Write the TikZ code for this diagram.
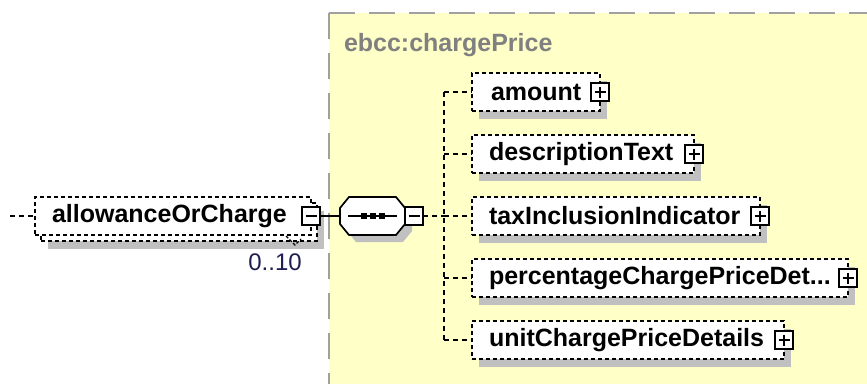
\documentclass[tikz,border=0pt]{standalone}
\usepackage{fontspec}
\setmainfont{Liberation Sans}
\usetikzlibrary{shadows,calc}
\definecolor{bgyellow}{RGB}{255,255,200}
\definecolor{bggray}{RGB}{160,160,160}
\definecolor{shadowgray}{RGB}{192,192,192}
\definecolor{labelgray}{RGB}{128,128,128}
\definecolor{occblue}{RGB}{30,30,80}
\newcommand{\octo}[2]{($(seq.west)+(#1,#2-8)$) -- ($(seq.north west)+(#1+9,#2)$) -- ($(seq.north east)+(#1-9,#2)$) -- ($(seq.east)+(#1,#2-8)$) -- ($(seq.east)+(#1,#2+8)$) -- ($(seq.south east)+(#1-9,#2)$) -- ($(seq.south west)+(#1+9,#2)$) -- ($(seq.west)+(#1,#2+8)$) -- cycle}
\begin{document}
\begin{tikzpicture}[x=1pt,y=-1pt,
  every node/.style={inner sep=0pt, outer sep=0pt},
  elem/.style={draw=black, fill=white, line width=1.8pt, dash pattern=on 4pt off 3pt, minimum height=38pt},
  shad/.style={drop shadow={shadow xshift=7pt, shadow yshift=-8pt, fill=shadowgray, opacity=1, draw=none}},
  ename/.style={font=\fontsize{25}{29}\selectfont\bfseries, anchor=west, text=black},
  conn/.style={line width=1.7pt, dash pattern=on 5pt off 4pt},
  tog/.style={draw=black, fill=white, line width=1.7pt, solid, minimum width=18pt, minimum height=18pt},
  minusbox/.style={tog, path picture={
      \draw[line width=1.7pt, solid] ($(path picture bounding box.west)+(3.5,0)$) -- ($(path picture bounding box.east)+(-3.5,0)$);}},
  plusbox/.style={tog, path picture={
      \draw[line width=1.7pt, solid] ($(path picture bounding box.west)+(3.5,0)$) -- ($(path picture bounding box.east)+(-3.5,0)$);
      \draw[line width=1.7pt, solid] ($(path picture bounding box.north)+(0,3.5)$) -- ($(path picture bounding box.south)+(0,-3.5)$);}},
]
\useasboundingbox (0,0) rectangle (867,383);
\clip (0,0) rectangle (867,383);
\fill[white] (0,0) rectangle (867,383);

% yellow complex type area
\coordinate (yc) at (329,13);
\fill[bgyellow] (yc) rectangle (900,420);
\draw[bggray, line width=2pt, dash pattern=on 26pt off 14pt] (yc) -- (900,13);
\draw[bggray, line width=2pt, dash pattern=on 26pt off 14pt] (yc) -- (329,420);
\node[font=\fontsize{25}{29}\selectfont\bfseries, text=labelgray, anchor=west] (typename) at (344,45) {ebcc:chargePrice};

% allowanceOrCharge (multiple occurrence: stacked boxes)
\node[elem, shad, minimum width=276pt] (allowback) at (179,222) {};
\node[elem, minimum width=276pt] (allow) at (173,216) {};
\node[ename] (allowtext) at ($(allow.west)+(17,0)$) {allowanceOrCharge};
\node[minusbox] (allowM) at (allow.east) {};
\node[font=\fontsize{24}{28}\selectfont, text=occblue] (occ) at (275,262) {0..10};
\coordinate (brA) at ($(allow.south east)+(-25,1)$);
\coordinate (brB) at ($(allow.south east)+(-16,10)$);
\coordinate (brC) at ($(allow.south east)+(-10,4)$);
\draw[line width=1.2pt, dash pattern=on 3pt off 2pt] (brA) -- (brB) -- (brC);

% incoming connector
\coordinate (in) at (10,216);
\draw[conn] (in) -- (allow.west);

% sequence compositor
\node[minimum width=65pt, minimum height=38pt] (seq) at (372.5,216) {};
\fill[shadowgray] \octo{7}{7};
\draw[fill=white, line width=1.7pt] \octo{0}{0};
\draw[line width=1.7pt] ($(seq.west)+(8,0)$) -- ($(seq.east)+(-8,0)$);
\foreach \dx in {-9,0,9} {
  \fill[black] ($(seq.center)+(\dx-3,-3)$) rectangle ++(6,6);
}
\node[minusbox] (seqM) at ($(seq.east)+(9,0)$) {};
\draw[line width=1.7pt] (allowM.east) -- (allowM.east -| seq.west);

% children
\node[elem, shad, minimum width=128pt] (amount) at (536,92) {};
\node[elem, shad, minimum width=222pt] (desc) at (583,154) {};
\node[elem, shad, minimum width=288pt] (tax) at (616,216) {};
\node[elem, shad, minimum width=376pt] (perc) at (660,278) {};
\node[elem, shad, minimum width=312pt] (unit) at (628,340) {};

\node[ename] (amountT) at ($(amount.west)+(19,0)$) {amount};
\node[ename] (descT) at ($(desc.west)+(17,0)$) {descriptionText};
\node[ename] (taxT) at ($(tax.west)+(17,0)$) {taxInclusionIndicator};
\node[ename] (percT) at ($(perc.west)+(17,0)$) {percentageChargePriceDet...};
\node[ename] (unitT) at ($(unit.west)+(17,0)$) {unitChargePriceDetails};

\node[plusbox] (amountP) at (amount.east) {};
\node[plusbox] (descP) at (desc.east) {};
\node[plusbox] (taxP) at (tax.east) {};
\node[plusbox] (percP) at (perc.east) {};
\node[plusbox] (unitP) at (unit.east) {};

% connectors to children
\coordinate (trunk) at (444,216);
\draw[conn] (seqM.east) -- (trunk |- seqM.east);
\draw[conn] (trunk |- amount.west) -- (trunk |- unit.west);
\foreach \c in {amount,desc,tax,perc,unit} {
  \draw[conn] (trunk |- \c.west) -- (\c.west);
}
\end{tikzpicture}
\end{document}
